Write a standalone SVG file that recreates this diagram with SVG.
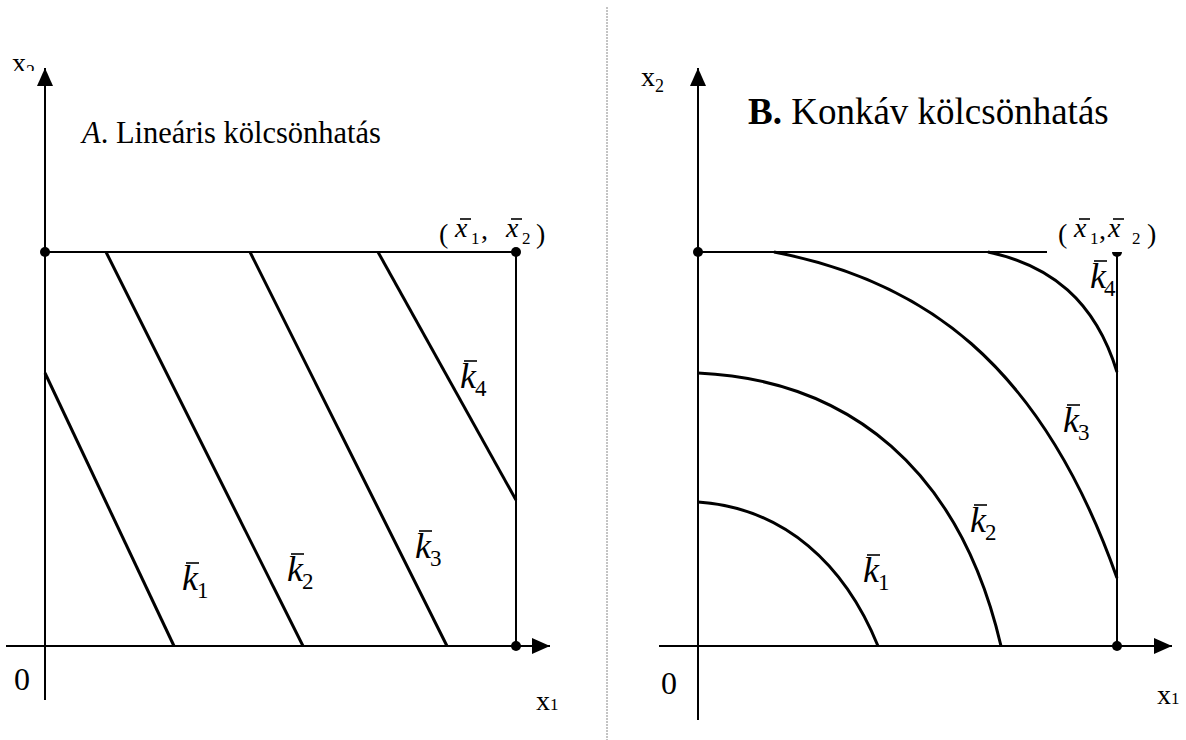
<svg xmlns="http://www.w3.org/2000/svg" width="1186" height="740" viewBox="0 0 1186 740">
<style>
.ax{stroke:#000;stroke-width:2;fill:none}
.cv{stroke:#000;stroke-width:3;fill:none}
.bar{stroke:#000;stroke-width:1.6}
.t{font-family:"Liberation Serif","Times New Roman",serif;fill:#000}
.i{font-style:italic}
.k{font-family:"Liberation Serif","Times New Roman",serif;font-style:italic;font-size:36px}
.s{font-family:"Liberation Serif","Times New Roman",serif;font-size:23px}
</style>
<defs>
<marker id="arr" markerUnits="userSpaceOnUse" markerWidth="18" markerHeight="16" refX="18" refY="8" orient="auto">
<path d="M0,0 L18,8 L0,16 z" fill="#000"/>
</marker>
<clipPath id="clipx2"><rect x="0" y="0" width="60" height="71"/></clipPath>
</defs>
<rect width="1186" height="740" fill="#fff"/>

<line x1="607" y1="7" x2="607" y2="740" stroke="#888" stroke-width="1" stroke-dasharray="2 1"/>

<g id="panelA">
<g id="axesA">
<line class="ax" x1="45" y1="700" x2="45" y2="68" marker-end="url(#arr)"/>
<line class="ax" x1="6" y1="646" x2="550" y2="646" marker-end="url(#arr)"/>
<line class="ax" x1="45" y1="252" x2="516" y2="252"/>
<line class="ax" x1="516" y1="252" x2="516" y2="646"/>
<circle cx="45" cy="252" r="5"/>
<circle cx="516" cy="252" r="5"/>
<circle cx="516" cy="646" r="5"/>
</g>
<g id="curvesA">
<line class="cv" x1="45" y1="373" x2="174" y2="646"/>
<line class="cv" x1="106" y1="252" x2="303" y2="646"/>
<line class="cv" x1="250" y1="252" x2="447" y2="646"/>
<line class="cv" x1="378" y1="252" x2="516" y2="500"/>
</g>
<g id="labelsA">
<g clip-path="url(#clipx2)"><text class="t" x="12" y="72" font-size="28">x</text><text class="t" x="26" y="78" font-size="18">2</text></g>
<text class="t" x="82" y="143" font-size="30.5"><tspan class="i">A</tspan>. Lineáris kölcsönhatás</text>
<text class="t" x="14" y="690" font-size="32">0</text>
<text class="t" x="536" y="710" font-size="28">x</text><text class="t" x="550" y="710" font-size="17">1</text>
<text class="t" x="439" y="243" font-size="28">(</text>
<text class="t i" x="455" y="237" font-size="28">x</text><line class="bar" x1="460" y1="219" x2="471" y2="219"/>
<text class="t" x="471" y="244" font-size="17">1</text>
<text class="t" x="481" y="239" font-size="28">,</text>
<text class="t i" x="506" y="237" font-size="28">x</text><line class="bar" x1="511" y1="219" x2="522" y2="219"/>
<text class="t" x="522" y="244" font-size="17">2</text>
<text class="t" x="536" y="243" font-size="28">)</text>
</g>
<g id="kA1"><text class="k" x="182" y="590">k</text><line class="bar" x1="186" y1="563" x2="199" y2="563"/><text class="s" x="197" y="598">1</text></g>
<g id="kA2"><text class="k" x="287" y="581">k</text><line class="bar" x1="291" y1="554" x2="304" y2="554"/><text class="s" x="302" y="589">2</text></g>
<g id="kA3"><text class="k" x="415" y="558">k</text><line class="bar" x1="419" y1="531" x2="432" y2="531"/><text class="s" x="430" y="566">3</text></g>
<g id="kA4"><text class="k" x="460" y="388">k</text><line class="bar" x1="464" y1="361" x2="477" y2="361"/><text class="s" x="475" y="396">4</text></g>
</g>

<g id="panelB">
<g id="axesB">
<line class="ax" x1="698" y1="720" x2="698" y2="68" marker-end="url(#arr)"/>
<line class="ax" x1="659" y1="646" x2="1172" y2="646" marker-end="url(#arr)"/>
<line class="ax" x1="1117" y1="252" x2="1117" y2="646"/>
<circle cx="698" cy="252" r="5"/>
<circle cx="1117" cy="252" r="5"/>
<circle cx="1117" cy="646" r="5"/>
<rect x="1047" y="205" width="75" height="47" fill="#fff"/>
<line class="ax" x1="698" y1="252" x2="1047" y2="252"/>
</g>
<g id="curvesB">
<path class="cv" d="M698,502 C785,508 845,565 878,646"/>
<path class="cv" d="M698,373 C850,380 960,470 1001,646"/>
<path class="cv" d="M774,252 C920,280 1040,360 1117,578"/>
<path class="cv" d="M988,252 C1050,265 1095,300 1117,372"/>
</g>
<g id="labelsB">
<text class="t" x="641" y="86" font-size="28">x</text><text class="t" x="655" y="92" font-size="18">2</text>
<text class="t" x="748" y="124" font-size="37"><tspan font-weight="bold">B.</tspan> Konkáv kölcsönhatás</text>
<text class="t" x="661" y="694" font-size="32">0</text>
<text class="t" x="1157" y="704" font-size="28">x</text><text class="t" x="1171" y="704" font-size="17">1</text>
<text class="t" x="1058" y="243" font-size="28">(</text>
<text class="t i" x="1074" y="237" font-size="28">x</text><line class="bar" x1="1079" y1="219" x2="1090" y2="219"/>
<text class="t" x="1090" y="244" font-size="17">1</text>
<text class="t" x="1099" y="239" font-size="28">,</text>
<text class="t i" x="1108" y="237" font-size="28">x</text><line class="bar" x1="1113" y1="219" x2="1124" y2="219"/>
<text class="t" x="1132" y="244" font-size="17">2</text>
<text class="t" x="1147" y="243" font-size="28">)</text>
</g>
<g id="kB1"><text class="k" x="863" y="582">k</text><line class="bar" x1="867" y1="555" x2="880" y2="555"/><text class="s" x="878" y="590">1</text></g>
<g id="kB2"><text class="k" x="970" y="532">k</text><line class="bar" x1="974" y1="505" x2="987" y2="505"/><text class="s" x="985" y="540">2</text></g>
<g id="kB3"><text class="k" x="1063" y="432">k</text><line class="bar" x1="1067" y1="405" x2="1080" y2="405"/><text class="s" x="1078" y="440">3</text></g>
<g id="kB4"><text class="k" x="1090" y="288">k</text><line class="bar" x1="1094" y1="261" x2="1107" y2="261"/><text class="s" x="1104" y="296">4</text></g>
</g>
</svg>
